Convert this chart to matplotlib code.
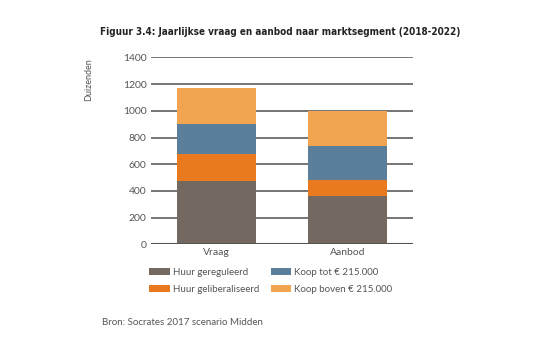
import matplotlib

matplotlib.use("Agg")
import numpy as np
from matplotlib import pyplot as plt
from matplotlib.patches import Patch

categories = ["Vraag", "Aanbod"]
segments = [
    "Huur gereguleerd",
    "Huur geliberaliseerd",
    "Koop tot € 215.000",
    "Koop boven € 215.000",
]
huur_gereguleerd = [476, 362]
huur_geliberaliseerd = [200, 119]
koop_tot = [223, 253]
koop_boven = [272, 266]
yticks = [0, 200, 400, 600, 800, 1000, 1200, 1400]

colors = ["#736960", "#ea7a1f", "#5b7f9b", "#f1a550"]
text_color = "#555555"

plt.rcParams["font.family"] = ["Lato", "DejaVu Sans"]

fig = plt.figure(figsize=(5.37, 3.46), dpi=100)
ax = fig.add_axes([0.281, 0.294, 0.488, 0.540])

x = np.arange(len(categories))
bottom = np.zeros(len(categories))
for values, color in zip(
    [huur_gereguleerd, huur_geliberaliseerd, koop_tot, koop_boven], colors
):
    ax.bar(x, values, width=0.6, bottom=bottom, color=color, zorder=3)
    bottom += np.array(values)

ax.set_xlim(-0.5, 1.5)
ax.set_ylim(0, 1400)
ax.set_yticks(yticks)
ax.set_xticks(x)
ax.set_xticklabels(categories)
ax.yaxis.grid(True, color="#6a6a6a", linewidth=1.3, zorder=1)
for spine in ax.spines.values():
    spine.set_visible(False)
ax.axhline(0, color="#555555", linewidth=1.5, zorder=4)
ax.tick_params(axis="both", length=0, labelsize=7.5, colors=text_color, pad=3)
ax.tick_params(axis="y", pad=3)
ax.set_ylabel("Duizenden", fontsize=6.5, color=text_color)
ax.yaxis.set_label_coords(-0.222, 0.88)

# condensed bold title, shrunk to fit its width
title = fig.text(
    0.186,
    0.9,
    "Figuur 3.4: Jaarlijkse vraag en aanbod naar marktsegment (2018-2022)",
    fontsize=9,
    fontweight="bold",
    fontstretch="condensed",
    family=["DejaVu Sans"],
    color="#222222",
)
renderer = fig.canvas.get_renderer()
width = title.get_window_extent(renderer).width
title.set_fontsize(9 * 362 / width)

handles = [Patch(facecolor=c, edgecolor="none") for c in colors]
fig.legend(
    handles,
    segments,
    loc="upper left",
    bbox_to_anchor=(0.262, 0.25),
    ncol=2,
    frameon=False,
    fontsize=7,
    labelcolor=text_color,
    handlelength=2.1,
    handleheight=0.75,
    handletextpad=0.3,
    columnspacing=1.2,
    labelspacing=0.75,
)

fig.text(
    0.19,
    0.06,
    "Bron: Socrates 2017 scenario Midden",
    fontsize=7,
    color=text_color,
)

fig.savefig("out.png", dpi=100, facecolor="white")
